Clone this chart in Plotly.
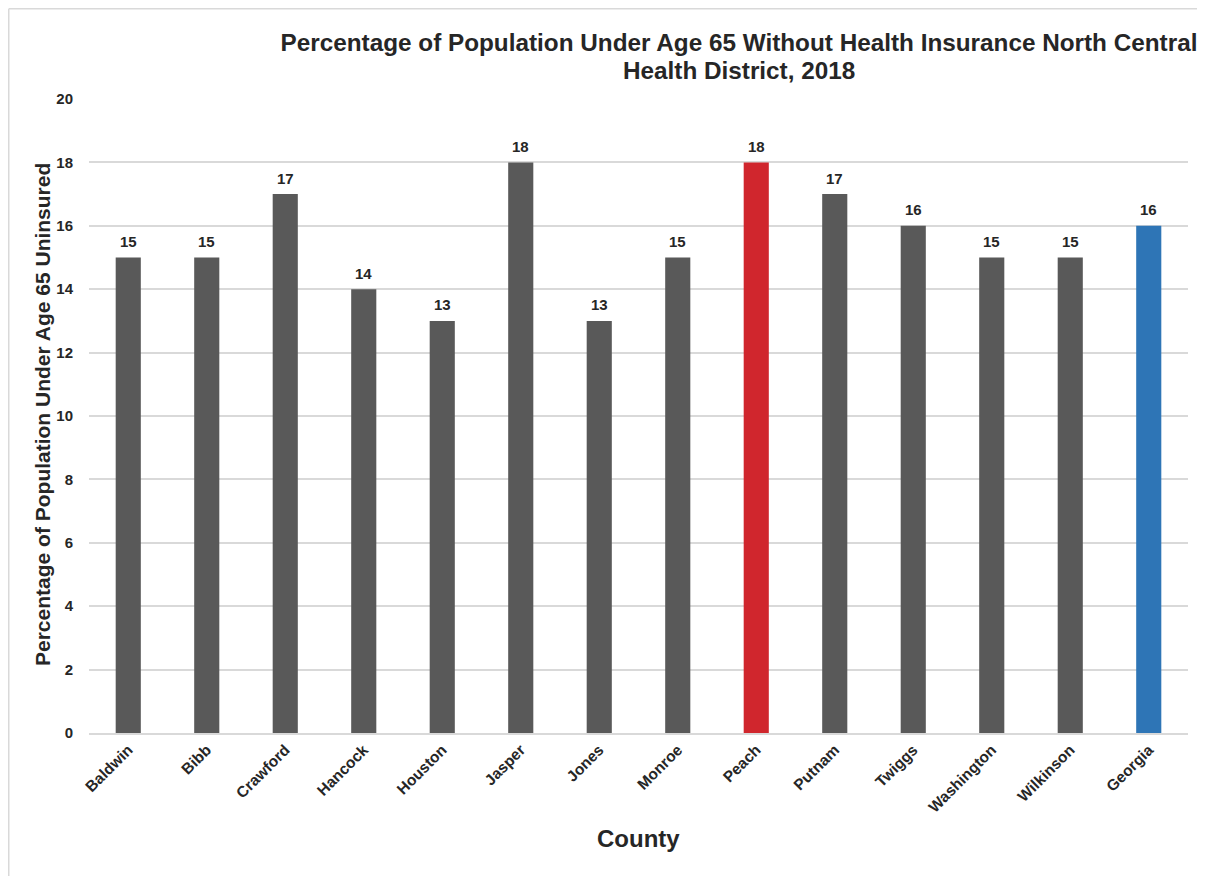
import plotly.graph_objects as go

counties = ["Baldwin", "Bibb", "Crawford", "Hancock", "Houston", "Jasper", "Jones",
            "Monroe", "Peach", "Putnam", "Twiggs", "Washington", "Wilkinson", "Georgia"]
values = [15, 15, 17, 14, 13, 18, 13, 15, 18, 17, 16, 15, 15, 16]
gray = "#595959"
red = "#D0262D"
blue = "#2E75B6"
colors = [gray] * 8 + [red] + [gray] * 4 + [blue]

title_line1 = "Percentage of Population Under Age 65 Without Health Insurance North Central"
title_line2 = "Health District, 2018"

FONT = "Liberation Sans, Arial, sans-serif"
TXT = "#262626"

# page is offset by the browser's 8px body margin, so the figure is 8px smaller
W, H = 1197, 868
L, R, T, B = 81, 17, 91, 143
pw, ph = W - L - R, H - T - B

def px(x):
    return (x - L) / pw

def py(y):
    return (H - B - y) / ph

fig = go.Figure(go.Bar(
    x=counties, y=values,
    marker=dict(color=colors, line=dict(width=0)),
    cliponaxis=False,
))

label_annotations = [
    dict(x=c, y=v, xref="x", yref="y", text=f"<b>{v}</b>", showarrow=False,
         yanchor="middle", yshift=16, font=dict(family=FONT, size=15, color=TXT))
    for c, v in zip(counties, values)
]

fig.update_layout(
    width=W, height=H,
    margin=dict(l=L, r=R, t=T, b=B),
    paper_bgcolor="white", plot_bgcolor="white",
    bargap=0.68,
    showlegend=False,
    title=dict(
        text=f"<b>{title_line1}</b>",
        x=731 / W, xanchor="center",
        y=1 - 34 / H, yanchor="middle",
        font=dict(family=FONT, size=24.3, color=TXT),
    ),
    font=dict(family=FONT, color=TXT),
    xaxis=dict(
        tickangle=-45,
        tickfont=dict(family=FONT, size=15.5, color=TXT),
        tickvals=counties, ticktext=[f"<b>{c}</b>" for c in counties],
        showline=True, linecolor="#D9D9D9", linewidth=1.5,
        ticks="", showgrid=False,
    ),
    yaxis=dict(
        range=[0, 20], dtick=2,
        tickfont=dict(family=FONT, size=15, color=TXT),
        tickprefix="<b>", ticksuffix="</b>",
        showgrid=True, gridcolor="#D9D9D9", gridwidth=1.5,
        zeroline=False, ticks="outside", ticklen=12, tickcolor="rgba(0,0,0,0)",
    ),
    annotations=label_annotations + [
        dict(text=f"<b>{title_line2}</b>", xref="paper", yref="paper",
             x=px(731), y=py(62), xanchor="center", yanchor="middle",
             showarrow=False, font=dict(family=FONT, size=24.3, color=TXT)),
        dict(text="<b>County</b>", xref="paper", yref="paper",
             x=px(630), y=py(830), xanchor="center", yanchor="middle",
             showarrow=False, font=dict(family=FONT, size=24, color=TXT)),
        dict(text="<b>Percentage of Population Under Age 65 Uninsured</b>", xref="paper", yref="paper",
             x=px(34), y=py(407), xanchor="center", yanchor="middle", textangle=-90,
             showarrow=False, font=dict(family=FONT, size=21, color=TXT)),
    ],
    shapes=[
        dict(type="line", xref="paper", yref="paper", x0=px(0.75), x1=px(W + 5), y0=py(0.75), y1=py(0.75),
             line=dict(color="#D9D9D9", width=1.5)),
        dict(type="line", xref="paper", yref="paper", x0=px(0.75), x1=px(0.75), y0=py(0.75), y1=py(H + 5),
             line=dict(color="#D9D9D9", width=1.5)),
    ],
)

fig.write_html("out.html")
